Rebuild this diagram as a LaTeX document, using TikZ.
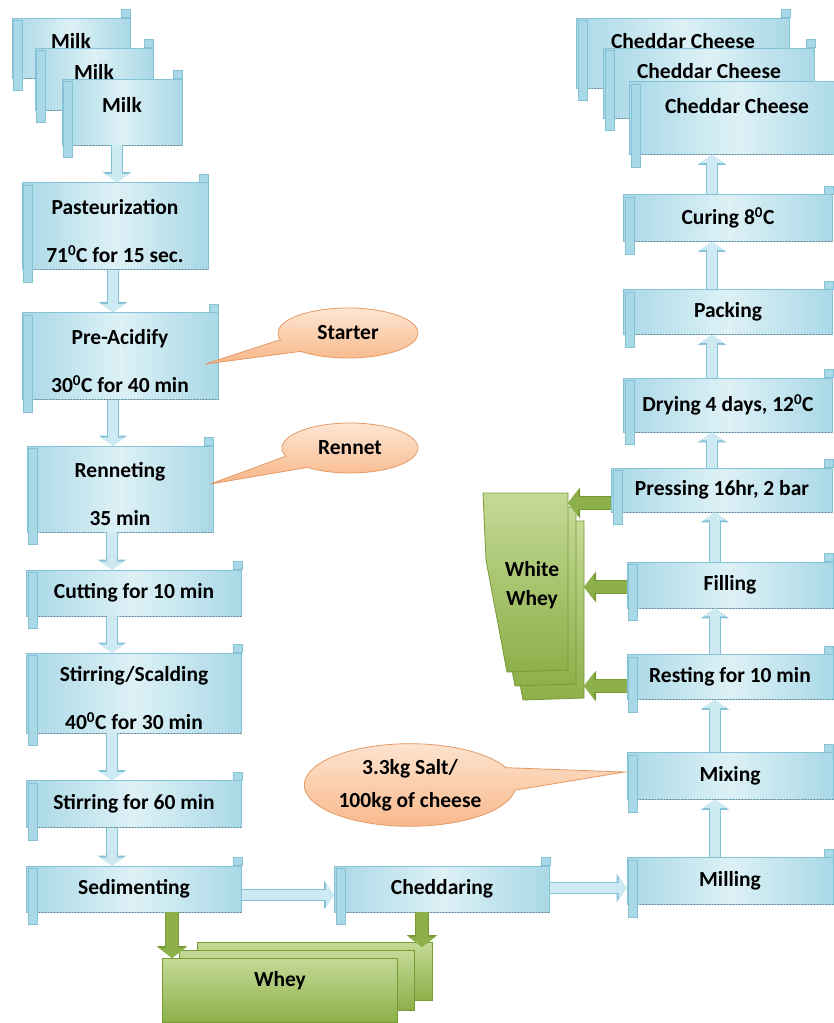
\documentclass[tikz,border=0pt]{standalone}
\usepackage{fontspec}
\setmainfont{Carlito}
\usetikzlibrary{shapes.callouts,arrows.meta,calc}

\definecolor{scrollfill}{HTML}{DDF1F6}
\definecolor{scrolldark}{HTML}{A9D8E6}
\definecolor{scrollline}{HTML}{86C2D6}
\definecolor{arrowfill}{HTML}{CDEAF2}
\definecolor{wheyfill}{HTML}{C4DA96}
\definecolor{wheydark}{HTML}{8DB04A}
\definecolor{wheyline}{HTML}{779A36}
\definecolor{calloutfill}{HTML}{FDE6D3}
\definecolor{calloutdark}{HTML}{F8B687}
\definecolor{calloutline}{HTML}{E39A66}

\tikzset{
  scrollbox/.style={draw=scrollline, line width=0.8pt, left color=scrolldark,
    right color=scrolldark, middle color=scrollfill, inner sep=2pt,
    font=\fontsize{21.5}{25}\selectfont\bfseries, align=center},
  bubble/.style={ellipse callout, draw=calloutline, line width=0.8pt,
    callout pointer arc=32, top color=calloutfill, bottom color=calloutdark,
    font=\fontsize{21.5}{25}\selectfont\bfseries, align=center},
  wheybox/.style={draw=wheyline, line width=0.8pt, top color=wheyfill,
    bottom color=wheydark, font=\fontsize{21.5}{25}\selectfont\bfseries, align=center},
  flow/.style={line width=10pt, draw=arrowfill, -{Triangle[length=8pt,width=24pt]},
    preaction={draw=scrollline, line width=12pt, -{Triangle[length=10pt,width=28pt]}}},
  drain/.style={line width=12pt, draw=wheydark, -{Triangle[length=10pt,width=26pt]},
    preaction={draw=wheyline, line width=14pt, -{Triangle[length=12pt,width=30pt]}}}
}

% rolled edge, curl and dotted rim of a scroll box
\newcommand\rollup[1]{%
  \draw[black!55, dotted, line width=1pt] ($(#1.south west)+(10,0)$) -- (#1.south east);
  \draw[draw=scrollline, fill=scrolldark] ($(#1.north west)+(2,3)$) rectangle ($(#1.south west)+(11,12)$);
  \draw[draw=scrollline, fill=scrolldark] ($(#1.north east)+(-9,0)$) rectangle ($(#1.north east)+(0,-8)$);
}

\begin{document}
\begin{tikzpicture}[x=1pt, y=-1pt]
    \useasboundingbox (0,0) rectangle (833,1023);

    % left column
    \node[scrollbox, minimum width=118pt, minimum height=60pt, text depth=14pt] (milkA) at (71,48) {Milk}; \rollup{milkA}
    \node[scrollbox, minimum width=118pt, minimum height=62pt, text depth=14pt] (milkB) at (94,79) {Milk}; \rollup{milkB}
    \node[scrollbox, minimum width=120pt, minimum height=66pt, text depth=14pt] (milkC) at (122,112) {Milk}; \rollup{milkC}
    \node[scrollbox, minimum width=186pt, minimum height=87pt] (past) at (115,226) {\rule{0pt}{26pt}Pasteurization\\[23pt]71\textsuperscript{0}C for 15 sec.}; \rollup{past}
    \node[scrollbox, minimum width=196pt, minimum height=87pt] (pre) at (120,356) {\rule{0pt}{26pt}Pre-Acidify\\[23pt]30\textsuperscript{0}C for 40 min}; \rollup{pre}
    \node[scrollbox, minimum width=186pt, minimum height=86pt] (ren) at (120,489) {\rule{0pt}{26pt}Renneting\\[23pt]35 min}; \rollup{ren}
    \node[scrollbox, minimum width=215pt, minimum height=46pt] (cut) at (134,593) {Cutting for 10 min}; \rollup{cut}
    \node[scrollbox, minimum width=215pt, minimum height=80pt] (stir) at (134,693) {\rule{0pt}{26pt}Stirring/Scalding\\[23pt]40\textsuperscript{0}C for 30 min}; \rollup{stir}
    \node[scrollbox, minimum width=215pt, minimum height=47pt] (stirB) at (134,804) {Stirring for 60 min}; \rollup{stirB}
    \node[scrollbox, minimum width=215pt, minimum height=46pt] (sed) at (134,889) {Sedimenting}; \rollup{sed}
    \node[scrollbox, minimum width=215pt, minimum height=46pt] (ched) at (442,889) {Cheddaring}; \rollup{ched}

    % right column
    \node[scrollbox, minimum width=206pt, minimum height=47pt] (mill) at (730,881) {Milling}; \rollup{mill}
    \node[scrollbox, minimum width=206pt, minimum height=47pt] (mix) at (730,776) {Mixing}; \rollup{mix}
    \node[scrollbox, minimum width=206pt, minimum height=45pt] (rest) at (730,677) {Resting for 10 min}; \rollup{rest}
    \node[scrollbox, minimum width=206pt, minimum height=46pt] (filling) at (730,585) {Filling}; \rollup{filling}
    \node[scrollbox, minimum width=221pt, minimum height=44pt] (press) at (722,490) {Pressing 16hr, 2 bar}; \rollup{press}
    \node[scrollbox, minimum width=209pt, minimum height=54pt] (dry) at (728,405) {Drying 4 days, 12\textsuperscript{0}C}; \rollup{dry}
    \node[scrollbox, minimum width=209pt, minimum height=45pt] (pack) at (728,312) {Packing}; \rollup{pack}
    \node[scrollbox, minimum width=209pt, minimum height=47pt] (cure) at (728,218) {Curing 8\textsuperscript{0}C}; \rollup{cure}
    \node[scrollbox, minimum width=213pt, minimum height=70pt, text depth=24pt] (cheA) at (683,53) {Cheddar Cheese}; \rollup{cheA}
    \node[scrollbox, minimum width=211pt, minimum height=70pt, text depth=24pt] (cheB) at (709,83) {Cheddar Cheese}; \rollup{cheB}
    \node[scrollbox, minimum width=215pt, minimum height=73pt, text depth=24pt] (cheC) at (737,118) {Cheddar Cheese}; \rollup{cheC}

    % additions
    \node[bubble, minimum width=140pt, minimum height=50pt, callout absolute pointer={($(pre.east)+(-13,8)$)}] (starter) at (348,333) {Starter};
    \node[bubble, minimum width=136pt, minimum height=50pt, callout absolute pointer={($(ren.east)+(-3,-5)$)}] (rennet) at (350,448) {Rennet};
    \node[bubble, minimum width=200pt, minimum height=66pt, callout absolute pointer={($(mix.west)+(-2,-4)$)}] (salt) at (410,785) {3.3kg Salt/\\[8pt]100kg of cheese};

    % whey
    \node[wheybox, minimum width=235pt, minimum height=58pt] (wheyC) at (315,971) {};
    \node[wheybox, minimum width=235pt, minimum height=60pt] (wheyB) at (297,980) {};
    \node[wheybox, minimum width=235pt, minimum height=64pt, text depth=22pt] (whey) at (280,990) {Whey};
    \coordinate (wheyin) at (172,958);
    \coordinate (wheyinB) at (422,947);

    % white whey
    \foreach \dx/\dy in {16/28, 8/14, 0/0}{
        \draw[wheybox] ($(483,493)+(\dx,\dy)$) -- ($(568,493)+(\dx,\dy)$) -- ($(568,670)+(\dx,\dy)$)
          -- ($(507,672)+(\dx,\dy)$) -- ($(486,560)+(\dx,\dy)$) -- cycle;
    }
    \node[font=\fontsize{21.5}{25}\selectfont\bfseries, align=center] (wwhey) at (532,585) {White\\[4pt]Whey};
    \coordinate (wwA) at (568,503);
    \coordinate (wwB) at (584,587);
    \coordinate (wwC) at (584,686);

    % flow arrows
    \draw[flow] (milkC.south -| 117,0) -- (past.north -| 117,0);
    \draw[flow] (past.south -| 113,0) -- (pre.north -| 113,0);
    \draw[flow] (pre.south -| 113,0) -- (ren.north -| 113,0);
    \draw[flow] (ren.south -| 112,0) -- (cut.north -| 112,0);
    \draw[flow] (cut.south -| 112,0) -- (stir.north -| 112,0);
    \draw[flow] (stir.south -| 112,0) -- (stirB.north -| 112,0);
    \draw[flow] (stirB.south -| 112,0) -- (sed.north -| 112,0);
    \draw[flow] (sed.east |- 0,895) -- (ched.west |- 0,895);
    \draw[flow] (ched.east |- 0,888) -- (mill.west |- 0,888);
    \draw[flow] (mill.north -| 715,0) -- (mix.south -| 715,0);
    \draw[flow] (mix.north -| 715,0) -- (rest.south -| 715,0);
    \draw[flow] (rest.north -| 715,0) -- (filling.south -| 715,0);
    \draw[flow] (filling.north -| 715,0) -- (press.south -| 715,0);
    \draw[flow] (press.north -| 712,0) -- (dry.south -| 712,0);
    \draw[flow] (dry.north -| 712,0) -- (pack.south -| 712,0);
    \draw[flow] (pack.north -| 712,0) -- (cure.south -| 712,0);
    \draw[flow] (cure.north -| 712,0) -- (cheC.south -| 712,0);

    % whey arrows
    \draw[drain] (sed.south -| wheyin) -- (wheyin);
    \draw[drain] (ched.south -| wheyinB) -- (wheyinB);
    \draw[drain] (press.west |- wwA) -- (wwA);
    \draw[drain] (filling.west |- wwB) -- (wwB);
    \draw[drain] (rest.west |- wwC) -- (wwC);
\end{tikzpicture}
\end{document}
